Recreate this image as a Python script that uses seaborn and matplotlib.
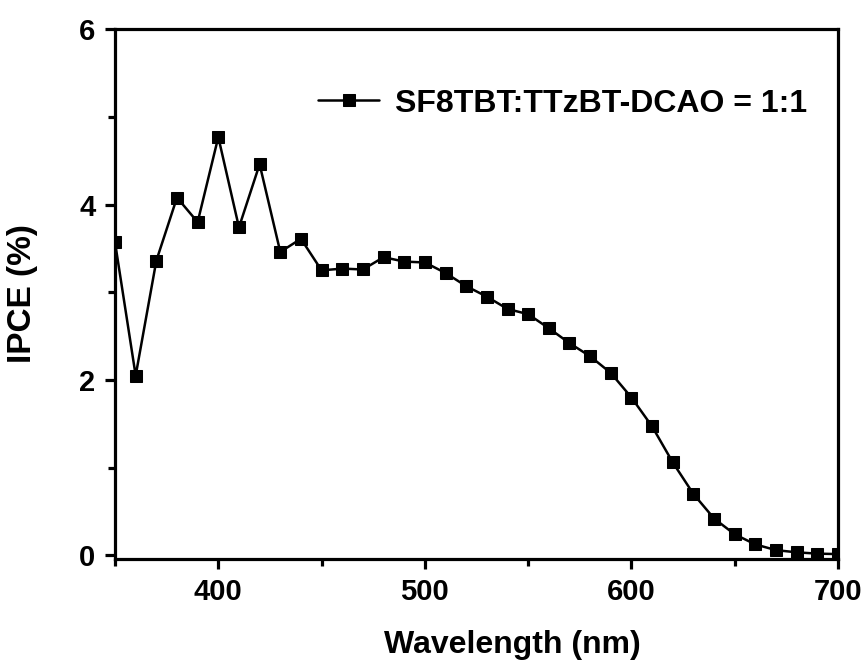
import matplotlib
matplotlib.use("Agg")
import matplotlib.pyplot as plt
import seaborn as sns
import pandas as pd
from matplotlib.ticker import MultipleLocator

wavelength = [350, 360, 370, 380, 390, 400, 410, 420, 430, 440, 450, 460, 470, 480, 490,
              500, 510, 520, 530, 540, 550, 560, 570, 580, 590, 600, 610, 620, 630, 640,
              650, 660, 670, 680, 690, 700]
ipce = [3.57, 2.05, 3.36, 4.08, 3.80, 4.77, 3.74, 4.46, 3.46, 3.61, 3.25, 3.27, 3.26, 3.40, 3.35,
        3.34, 3.22, 3.07, 2.95, 2.81, 2.75, 2.59, 2.42, 2.27, 2.08, 1.80, 1.47, 1.06, 0.70, 0.42,
        0.24, 0.125, 0.06, 0.035, 0.02, 0.015]
series_label = "SF8TBT:TTzBT-DCAO = 1:1"

df = pd.DataFrame({"Wavelength": wavelength, "IPCE": ipce, "Sample": series_label})

sns.set_style("ticks")
plt.rcParams["font.family"] = ["Liberation Sans", "DejaVu Sans"]
plt.rcParams["font.weight"] = "bold"
plt.rcParams["text.color"] = "black"
plt.rcParams["axes.labelcolor"] = "black"

fig = plt.figure(figsize=(8.68, 6.63), dpi=100)
ax = fig.add_axes([0.1325, 0.157, 0.833, 0.799])

sns.lineplot(data=df, x="Wavelength", y="IPCE", hue="Sample", palette=["black"],
             marker="s", markersize=9, markeredgecolor="black", linewidth=1.8, ax=ax)

ax.set_xlim(350, 700)
ax.set_ylim(-0.04, 6)
ax.xaxis.set_minor_locator(MultipleLocator(50))
ax.yaxis.set_major_locator(MultipleLocator(2))
ax.yaxis.set_minor_locator(MultipleLocator(1))
ax.set_xticks([400, 500, 600, 700])

for sp in ax.spines.values():
    sp.set_linewidth(2.3)
    sp.set_color("black")
ax.tick_params(which="major", length=7, width=2.3, direction="out", labelsize=21,
               colors="black", pad=7)
ax.tick_params(which="minor", length=5, width=2.3, direction="out", colors="black")
for lab in ax.get_xticklabels() + ax.get_yticklabels():
    lab.set_fontweight("bold")

ax.set_xlabel("Wavelength (nm)", fontsize=23, fontweight="bold", color="black")
ax.set_ylabel("IPCE (%)", fontsize=24, fontweight="bold", color="black")
ax.xaxis.set_label_coords(0.55, -0.135)
ax.yaxis.set_label_coords(-0.107, 0.5)

leg = ax.legend(loc="upper right", frameon=False, fontsize=23, handlelength=1.9,
                handletextpad=0.5, markerscale=0.9,
                bbox_to_anchor=(0.975, 0.912), borderaxespad=0)
for t in leg.get_texts():
    t.set_fontweight("bold")
    t.set_color("black")

fig.savefig("out.png", dpi=100)
